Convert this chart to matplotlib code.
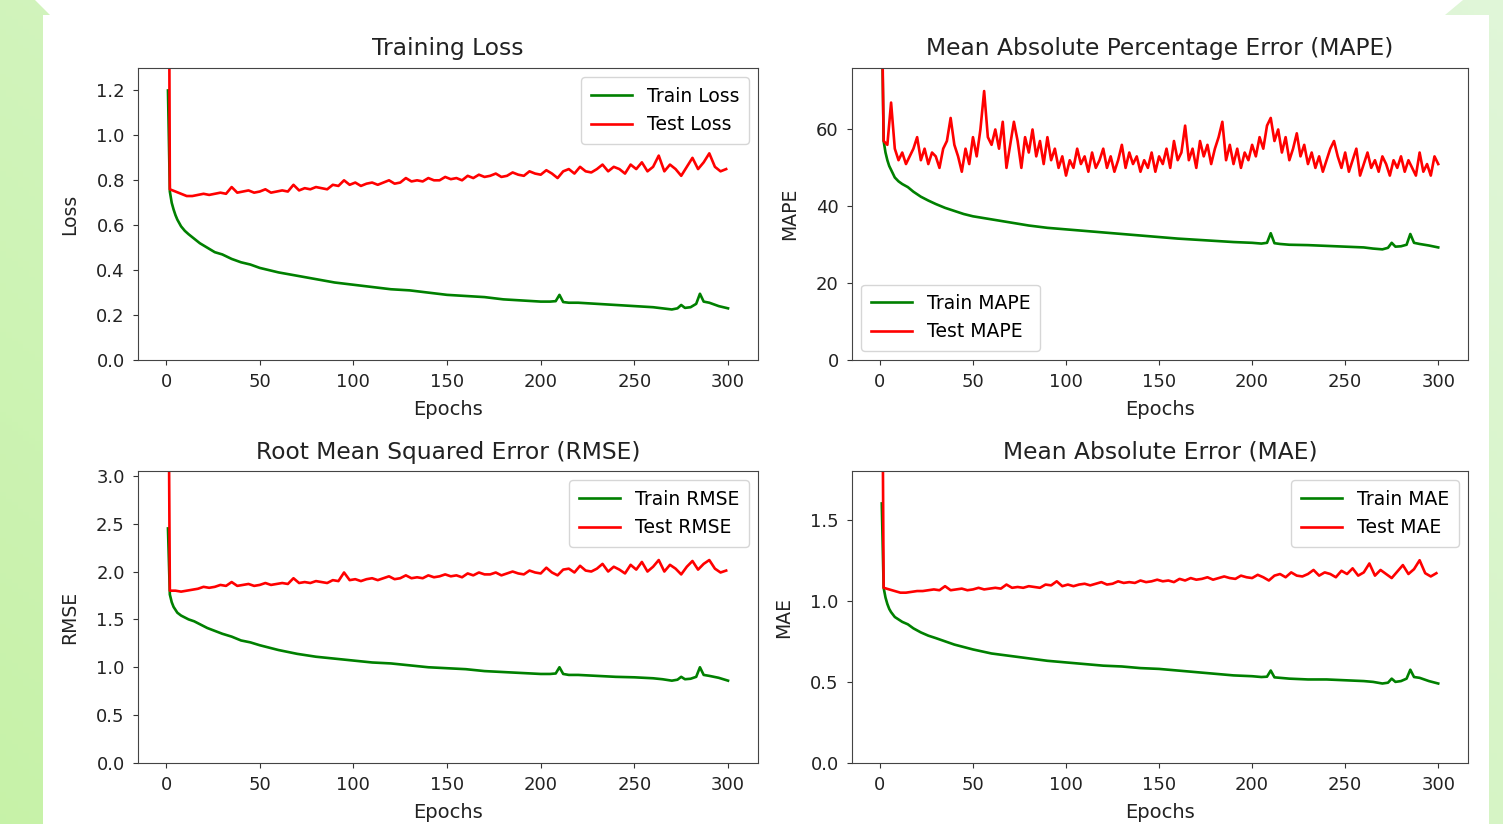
import numpy as np
import matplotlib
matplotlib.use("Agg")
import matplotlib.pyplot as plt
from matplotlib.patches import Polygon

# ---------------- data ----------------
train_ep = [1, 2, 3, 4, 5, 6, 8, 10, 12, 15, 18, 22, 26, 30, 35, 40, 45, 50, 60, 70,
            80, 90, 100, 110, 120, 130, 140, 150, 160, 170, 180, 190, 200, 205, 208,
            210, 212, 215, 220, 230, 240, 250, 260, 265, 270, 273, 275, 277, 280, 283,
            285, 287, 290, 295, 300]
test_ep = np.r_[1, 2, np.arange(5, 300, 3)]
test_mape_ep = np.r_[1, np.arange(2, 301, 2)]

train_loss = [1.20, 0.75, 0.70, 0.67, 0.645, 0.625, 0.595, 0.575, 0.56, 0.54, 0.52, 0.50,
              0.48, 0.47, 0.45, 0.435, 0.425, 0.41, 0.39, 0.375, 0.36, 0.345, 0.335, 0.325,
              0.315, 0.31, 0.30, 0.29, 0.285, 0.28, 0.27, 0.265, 0.26, 0.26, 0.262, 0.29,
              0.258, 0.255, 0.255, 0.25, 0.245, 0.24, 0.235, 0.23, 0.225, 0.23, 0.245, 0.232,
              0.235, 0.25, 0.295, 0.26, 0.255, 0.24, 0.23]
test_loss = [3.0, 0.76,
             .75, .74, .73, .73, .735, .74, .735, .74, .745, .74,
             .77, .745, .75, .755, .745, .75, .76, .745, .75, .755,
             .75, .78, .755, .765, .76, .77, .765, .76, .78, .775,
             .80, .78, .79, .775, .785, .79, .78, .79, .80, .785,
             .79, .81, .795, .80, .795, .81, .80, .80, .815, .805,
             .81, .80, .82, .81, .825, .815, .82, .83, .815, .82,
             .835, .825, .82, .84, .83, .825, .845, .83, .81, .84,
             .85, .83, .86, .84, .835, .85, .87, .84, .86, .85,
             .83, .87, .85, .88, .84, .86, .91, .84, .87, .85,
             .82, .86, .90, .85, .88, .92, .86, .84, .85]

train_mape = [90, 57, 54, 52, 50.5, 49.5, 47.5, 46.5, 45.8, 45, 43.8, 42.5, 41.5, 40.6,
              39.6, 38.8, 38.0, 37.4, 36.6, 35.8, 35.0, 34.4, 34.0, 33.6, 33.2, 32.8, 32.4,
              32.0, 31.6, 31.3, 31.0, 30.7, 30.5, 30.3, 30.5, 33.0, 30.4, 30.2, 30.0, 29.9,
              29.7, 29.5, 29.3, 29.0, 28.8, 29.2, 30.5, 29.5, 29.6, 30.0, 32.8, 30.5, 30.2,
              29.8, 29.3]
test_mape = [95,
             57, 56, 67, 55, 52, 54, 51, 53, 55, 58,
             52, 55, 51, 54, 53, 50, 55, 57, 63, 56,
             53, 49, 55, 51, 58, 53, 60, 70, 58, 56,
             60, 55, 62, 50, 56, 62, 57, 50, 58, 54,
             60, 53, 57, 51, 58, 52, 55, 50, 53, 48,
             52, 50, 55, 51, 53, 49, 54, 50, 52, 55,
             50, 53, 49, 52, 56, 50, 54, 51, 53, 49,
             52, 50, 54, 49, 53, 51, 55, 50, 57, 52,
             54, 61, 52, 55, 50, 57, 53, 56, 51, 55,
             58, 62, 52, 56, 51, 55, 50, 54, 52, 56,
             53, 58, 55, 61, 63, 57, 60, 54, 58, 52,
             55, 59, 53, 56, 51, 54, 50, 53, 49, 52,
             55, 57, 53, 50, 54, 49, 52, 55, 48, 51,
             54, 50, 52, 49, 53, 51, 48, 52, 50, 53,
             49, 52, 50, 48, 54, 49, 51, 48, 53, 51]

train_rmse = [2.45, 1.76, 1.68, 1.63, 1.60, 1.57, 1.54, 1.52, 1.50, 1.48, 1.45, 1.41, 1.38,
              1.35, 1.32, 1.28, 1.26, 1.23, 1.18, 1.14, 1.11, 1.09, 1.07, 1.05, 1.04, 1.02,
              1.00, 0.99, 0.98, 0.96, 0.95, 0.94, 0.93, 0.93, 0.935, 1.00, 0.93, 0.92, 0.92,
              0.91, 0.90, 0.895, 0.885, 0.875, 0.86, 0.87, 0.90, 0.875, 0.88, 0.90, 1.00,
              0.92, 0.91, 0.89, 0.86]
test_rmse = [5.0, 1.80,
             1.80, 1.79, 1.80, 1.81, 1.82, 1.84, 1.83, 1.84, 1.86, 1.85,
             1.89, 1.85, 1.86, 1.87, 1.85, 1.86, 1.88, 1.86, 1.87, 1.88,
             1.87, 1.93, 1.88, 1.89, 1.88, 1.90, 1.89, 1.88, 1.91, 1.90,
             1.99, 1.91, 1.92, 1.90, 1.92, 1.93, 1.91, 1.93, 1.95, 1.92,
             1.93, 1.96, 1.93, 1.94, 1.93, 1.96, 1.94, 1.95, 1.97, 1.95,
             1.96, 1.94, 1.98, 1.96, 1.99, 1.97, 1.97, 1.99, 1.96, 1.98,
             2.00, 1.98, 1.97, 2.01, 1.99, 1.98, 2.04, 1.99, 1.96, 2.02,
             2.03, 1.99, 2.06, 2.01, 2.00, 2.03, 2.08, 2.00, 2.05, 2.02,
             1.98, 2.07, 2.02, 2.10, 2.00, 2.05, 2.12, 2.00, 2.07, 2.03,
             1.97, 2.05, 2.11, 2.02, 2.08, 2.12, 2.03, 1.99, 2.01]

train_mae = [1.60, 1.08, 1.02, 0.98, 0.95, 0.93, 0.90, 0.885, 0.87, 0.855, 0.83, 0.805,
             0.785, 0.77, 0.75, 0.73, 0.715, 0.70, 0.675, 0.66, 0.645, 0.63, 0.62, 0.61,
             0.60, 0.595, 0.585, 0.58, 0.57, 0.56, 0.55, 0.54, 0.535, 0.53, 0.532, 0.57,
             0.528, 0.525, 0.52, 0.515, 0.515, 0.51, 0.505, 0.50, 0.49, 0.495, 0.52, 0.50,
             0.505, 0.52, 0.575, 0.53, 0.525, 0.505, 0.49]
test_mae = [3.0, 1.08,
            1.07, 1.06, 1.05, 1.05, 1.055, 1.06, 1.06, 1.065, 1.07, 1.065,
            1.09, 1.065, 1.07, 1.075, 1.065, 1.07, 1.08, 1.07, 1.075, 1.08,
            1.075, 1.10, 1.08, 1.085, 1.08, 1.09, 1.085, 1.08, 1.10, 1.095,
            1.12, 1.09, 1.10, 1.09, 1.10, 1.105, 1.095, 1.105, 1.115, 1.10,
            1.105, 1.12, 1.11, 1.115, 1.11, 1.125, 1.115, 1.12, 1.13, 1.12,
            1.125, 1.115, 1.135, 1.125, 1.14, 1.13, 1.135, 1.145, 1.13, 1.14,
            1.15, 1.14, 1.135, 1.155, 1.145, 1.14, 1.16, 1.145, 1.125, 1.155,
            1.165, 1.145, 1.175, 1.155, 1.15, 1.165, 1.19, 1.155, 1.175, 1.165,
            1.145, 1.185, 1.165, 1.20, 1.155, 1.175, 1.23, 1.155, 1.19, 1.165,
            1.14, 1.18, 1.22, 1.165, 1.195, 1.25, 1.17, 1.15, 1.17]

panels = [
    ("Training Loss", "Loss", train_loss, test_ep, test_loss, "Train Loss", "Test Loss",
     (0, 1.3), [0.0, 0.2, 0.4, 0.6, 0.8, 1.0, 1.2], ["0.0", "0.2", "0.4", "0.6", "0.8", "1.0", "1.2"], "upper right"),
    ("Mean Absolute Percentage Error (MAPE)", "MAPE", train_mape, test_mape_ep, test_mape, "Train MAPE", "Test MAPE",
     (0, 76), [0, 20, 40, 60], ["0", "20", "40", "60"], "lower left"),
    ("Root Mean Squared Error (RMSE)", "RMSE", train_rmse, test_ep, test_rmse, "Train RMSE", "Test RMSE",
     (0, 3.05), [0.0, 0.5, 1.0, 1.5, 2.0, 2.5, 3.0], ["0.0", "0.5", "1.0", "1.5", "2.0", "2.5", "3.0"], "upper right"),
    ("Mean Absolute Error (MAE)", "MAE", train_mae, test_ep, test_mae, "Train MAE", "Test MAE",
     (0, 1.8), [0.0, 0.5, 1.0, 1.5], ["0.0", "0.5", "1.0", "1.5"], "upper right"),
]
xticks = [0, 50, 100, 150, 200, 250, 300]

# ---------------- figure ----------------
W, H = 1503, 824
fig = plt.figure(figsize=(W / 100, H / 100), dpi=100)
fig.patch.set_facecolor("#d3f3c3")

# green gradient backdrop
bg = fig.add_axes([0, 0, 1, 1], zorder=-10)
grad = np.linspace(0, 1, 256)
gx, gy = np.meshgrid(grad, grad)
t = np.clip(0.6 * gx + 0.4 * gy, 0, 1)
c0 = np.array([0.78, 0.95, 0.66])
c1 = np.array([0.88, 0.965, 0.85])
img = c0[None, None, :] * (1 - t[..., None]) + c1[None, None, :] * t[..., None]
bg.imshow(img, extent=[0, 1, 0, 1], aspect="auto", origin="lower")
bg.set_xlim(0, 1)
bg.set_ylim(0, 1)
bg.axis("off")
# white sheet
sheet = Polygon([(43 / W, 0), (43 / W, 1 - 15 / H), (50 / W, 1 - 15 / H), (35 / W, 1),
                 (1463 / W, 1), (1445 / W, 1 - 15 / H), (1489 / W, 1 - 15 / H), (1489 / W, 0)],
                closed=True, transform=bg.transAxes, facecolor="white", edgecolor="none")
bg.add_patch(sheet)

lefts = [138 / W, 852 / W, 138 / W, 852 / W]
bottoms = [1 - 360 / H, 1 - 360 / H, 1 - 763 / H, 1 - 763 / H]
widths = [620 / W, 616 / W, 620 / W, 616 / W]
height = 292 / H

for i, (title, ylab, tr, tex, te, ltr, lte, ylim, yt, ytl, loc) in enumerate(panels):
    ax = fig.add_axes([lefts[i], bottoms[i], widths[i], height])
    ax.plot(train_ep, tr, color="green", lw=1.9, label=ltr)
    ax.plot(tex, te, color="red", lw=1.9, label=lte)
    ax.set_xlim(-15, 316)
    ax.set_ylim(*ylim)
    ax.set_xticks(xticks)
    ax.set_yticks(yt)
    ax.set_yticklabels(ytl)
    ax.tick_params(labelsize=13, colors="#333333", labelcolor="#222222", pad=6)
    ax.set_title(title, fontsize=16.8, color="#222222", pad=9)
    ax.set_xlabel("Epochs", fontsize=14, color="#222222", labelpad=6)
    ax.set_ylabel(ylab, fontsize=13.5, color="#222222", labelpad=12)
    for s in ax.spines.values():
        s.set_color("#444444")
    ax.legend(loc=loc, fontsize=13.5, handlelength=2.2, borderpad=0.5)

fig.savefig("out.png", dpi=100)
